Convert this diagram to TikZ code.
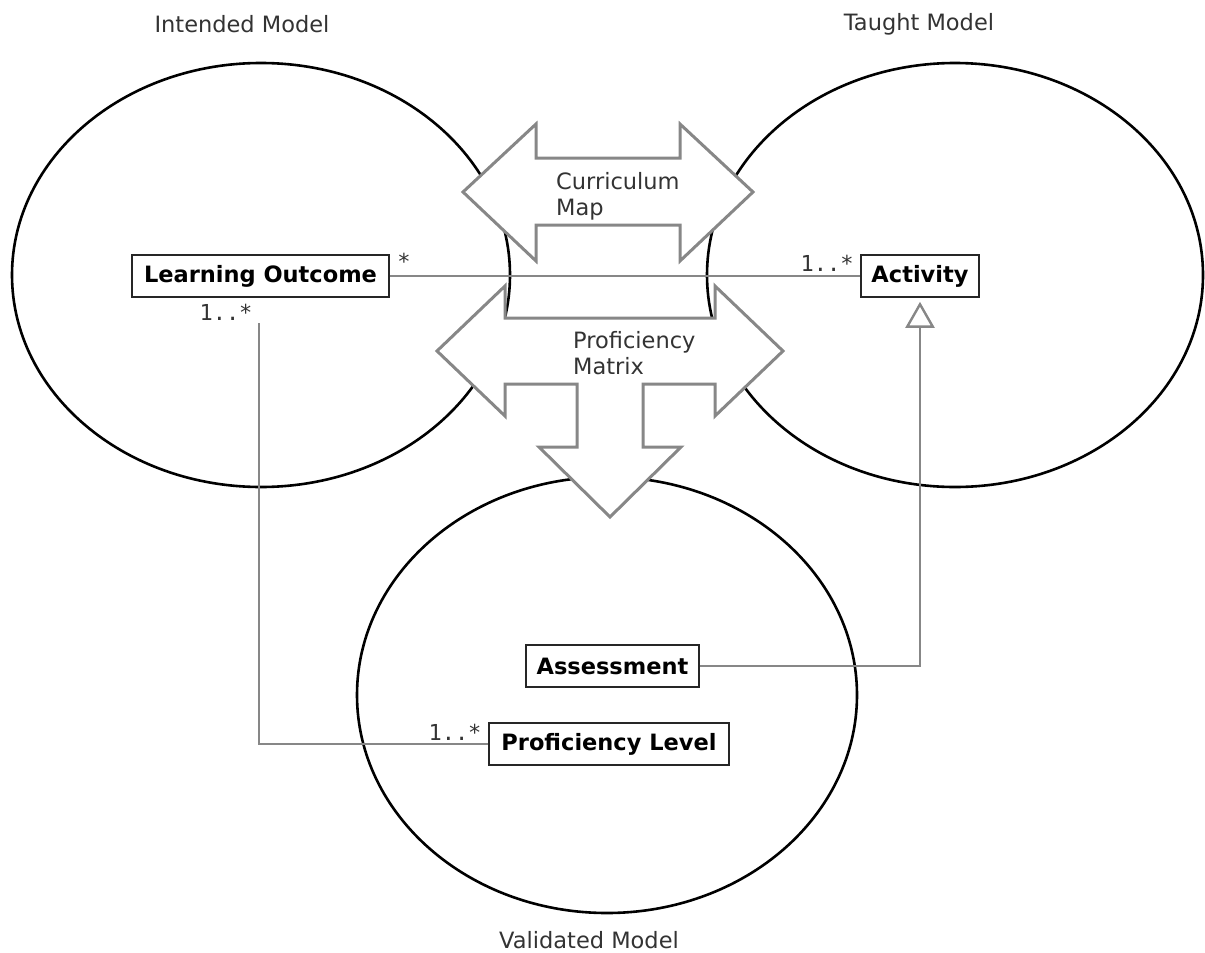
\documentclass[tikz,border=0pt]{standalone}
\usepackage{fontspec}
\setmainfont{DejaVu Sans}
\newfontfamily\multfont{DejaVu Sans Mono}
\usetikzlibrary{arrows.meta}
\begin{document}
\begin{tikzpicture}
  [x=1pt,y=-1pt,
   model/.style={draw=black,line width=2.6pt},
   cls/.style={draw=black!85,line width=1.6pt,fill=white,minimum height=42pt,inner sep=0pt,
     font=\fontsize{22.5}{26}\selectfont\bfseries},
   title/.style={text=black!80,inner sep=0pt,font=\fontsize{22.5}{26}\selectfont},
   mult/.style={text=black!80,inner sep=0pt,font=\fontsize{22}{26}\multfont},
   link/.style={draw=black!47,line width=2.4pt},
   bigarrow/.style={draw=black!47,line width=3pt,fill=white,line join=miter}]
  \useasboundingbox (0,0) rectangle (1205,953);

  % models
  \draw[model] (261,275) ellipse [x radius=249,y radius=212];
  \draw[model] (955,275) ellipse [x radius=248,y radius=212];
  \draw[model] (607,695) ellipse [x radius=250,y radius=218];

  \node[title] (intended) at (242,24) {Intended Model};
  \node[title] (taught) at (919,24) {Taught Model};
  \node[title] (validated) at (589,940) {Validated Model};

  % curriculum map
  \draw[bigarrow] (463,192) -- (536,124) -- (536,158) -- (680,158) -- (680,124)
    -- (753,192) -- (680,261) -- (680,225) -- (536,225) -- (536,261) -- cycle;
  \node[title,anchor=west,align=left] (cmap) at (556,196) {Curriculum\\Map};

  % proficiency matrix
  \draw[bigarrow] (437,351) -- (505,286) -- (505,318) -- (715,318) -- (715,286)
    -- (783,351) -- (715,416) -- (715,384) -- (643,384) -- (643,447) -- (681,447)
    -- (610,517) -- (539,447) -- (577,447) -- (577,384) -- (505,384) -- (505,416) -- cycle;
  \node[title,anchor=west,align=left] (pmatrix) at (573,353) {Proficiency\\Matrix};

  % classes
  \node[cls,minimum width=257pt] (lo) at (260.5,276) {Learning Outcome};
  \node[cls,minimum width=118pt] (act) at (920,276) {Activity};
  \node[cls,minimum width=173pt] (asm) at (612.5,666) {Assessment};
  \node[cls,minimum width=240pt] (pl) at (609,744) {Proficiency Level};
  \coordinate (lo-end) at (259,323);

  \draw[link] (lo) -- (act);
  \draw[link] (lo-end) |- (pl);
  \draw[link,-{Triangle[open,width=29pt,length=26pt]},shorten >=4pt] (asm) -| (act);

  \node[mult] (m1) at (404,261) {*};
  \node[mult] (m2) at (226,312) {1..*};
  \node[mult] (m3) at (827,263) {1..*};
  \node[mult] (m4) at (455,732) {1..*};
\end{tikzpicture}
\end{document}
